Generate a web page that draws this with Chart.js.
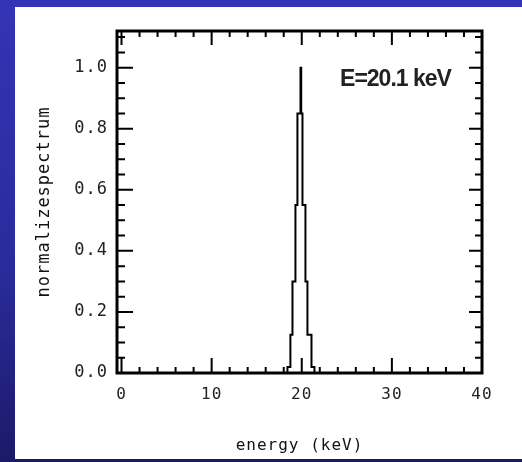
<!DOCTYPE html>
<html>
<head>
<meta charset="utf-8">
<script src="https://cdn.jsdelivr.net/npm/chart.js@4.4.1/dist/chart.umd.min.js"></script>
<style>
  html, body { margin: 0; padding: 0; background: #2a2a9c; overflow: hidden; }
  canvas { display: block; }
</style>
</head>
<body>
<canvas id="spectrum-canvas" width="522" height="462"></canvas>
<script>
(function(){

  // step histogram: left edge of each bin (keV) and its normalized height
  const binEdges = [-0.5, 18.41, 18.74, 18.97, 19.30, 19.52, 19.86, 19.94, 20.08, 20.41, 20.63, 21.08, 21.41, 40];
  const spectrum = [0, 0.02, 0.125, 0.30, 0.55, 0.85, 1.0, 0.85, 0.55, 0.30, 0.125, 0.02, 0, 0];

  // labelled (major) ticks
  const xLabelTicks = [0, 10, 20, 30, 40];
  const yLabelTicks = [0, 0.2, 0.4, 0.6, 0.8, 1.0];

  const peakLabel = 'E=20.1 keV';

  const context = document.querySelector('#spectrum-canvas').getContext('2d');

  const monoFont = '"DejaVu Sans Mono", monospace';
  const isMajor = (list, v) => list.some(m => Math.abs(m - v) < 1e-6);

  // blue slide background + white panel
  const backdrop = {
    id: 'backdrop',
    beforeDraw(chart) {
      const { ctx, width, height } = chart;
      ctx.save();
      const grad = ctx.createLinearGradient(0, 0, 0, height);
      grad.addColorStop(0, '#3434b6');
      grad.addColorStop(0.6, '#2a2a9a');
      grad.addColorStop(1, '#1a1a68');
      ctx.fillStyle = grad;
      ctx.fillRect(0, 0, width, height);
      ctx.fillStyle = '#ffffff';
      ctx.fillRect(15, 7, width - 15, 452);
      ctx.restore();
      // the old bitmap font is spaced out a bit
      ctx.letterSpacing = '1px';
    }
  };

  // box frame with inward ticks on all four sides + peak label
  const frameTicks = {
    id: 'frameTicks',
    afterDatasetsDraw(chart) {
      const { ctx, chartArea: { left, right, top, bottom }, scales: { x, y } } = chart;
      ctx.save();
      ctx.strokeStyle = '#000';
      ctx.lineWidth = 2;
      ctx.beginPath();
      x.ticks.forEach(t => {
        const px = x.getPixelForValue(t.value);
        const major = isMajor(xLabelTicks, t.value);
        ctx.moveTo(px, bottom); ctx.lineTo(px, bottom - (major ? 15 : 6));
        ctx.moveTo(px, top); ctx.lineTo(px, top + (major ? 14 : 6));
      });
      y.ticks.forEach(t => {
        const py = y.getPixelForValue(t.value);
        const major = isMajor(yLabelTicks, t.value);
        ctx.moveTo(left, py); ctx.lineTo(left + (major ? 16 : 8), py);
        ctx.moveTo(right, py); ctx.lineTo(right - (major ? 13 : 7), py);
      });
      ctx.stroke();
      ctx.lineWidth = 3;
      ctx.strokeRect(left, top, right - left, bottom - top);

      ctx.fillStyle = '#222';
      ctx.font = 'bold 23px "Liberation Sans", Arial, sans-serif';
      ctx.letterSpacing = '-1px';
      ctx.textAlign = 'center';
      ctx.textBaseline = 'middle';
      ctx.fillText(peakLabel, x.getPixelForValue(30.4), y.getPixelForValue(0.96));
      ctx.restore();
    }
  };

  const config = {
    type: 'line',
    data: {
      datasets: [{
        data: binEdges.map((e, i) => ({ x: e, y: spectrum[i] })),
        stepped: 'before',
        borderColor: '#000',
        borderWidth: 2,
        pointRadius: 0,
        fill: false
      }]
    },
    options: {
      responsive: false,
      animation: false,
      layout: { padding: { left: 0, top: 31, right: 40, bottom: 0 } },
      plugins: { legend: { display: false }, tooltip: { enabled: false } },
      scales: {
        x: {
          type: 'linear',
          min: -0.5,
          max: 40,
          afterFit: (s) => { s.height = 89; },
          grid: { display: false, drawTicks: false },
          border: { display: false },
          ticks: {
            stepSize: 2,
            includeBounds: false,
            autoSkip: false,
            maxRotation: 0,
            padding: 12,
            color: '#222',
            font: { family: monoFont, size: 16 },
            callback: (v) => isMajor(xLabelTicks, v) ? String(v) : ''
          },
          title: {
            display: true,
            text: 'energy (keV)',
            color: '#111',
            font: { family: monoFont, size: 16 },
            padding: { top: 0, bottom: 7 }
          }
        },
        y: {
          min: 0,
          max: 1.12,
          afterFit: (s) => { s.width = 117; },
          grid: { display: false, drawTicks: false },
          border: { display: false },
          ticks: {
            stepSize: 0.05,
            includeBounds: false,
            autoSkip: false,
            padding: 9,
            color: '#222',
            font: { family: monoFont, size: 17 },
            callback: (v) => isMajor(yLabelTicks, v) ? v.toFixed(1) : ''
          },
          title: {
            display: true,
            text: 'normalizespectrum',
            color: '#111',
            font: { family: monoFont, size: 17 },
            padding: { top: 34, bottom: 0 }
          }
        }
      }
    },
    plugins: [backdrop, frameTicks]
  };

  const chart = new Chart(context, config);

})();
</script>
</body>
</html>
